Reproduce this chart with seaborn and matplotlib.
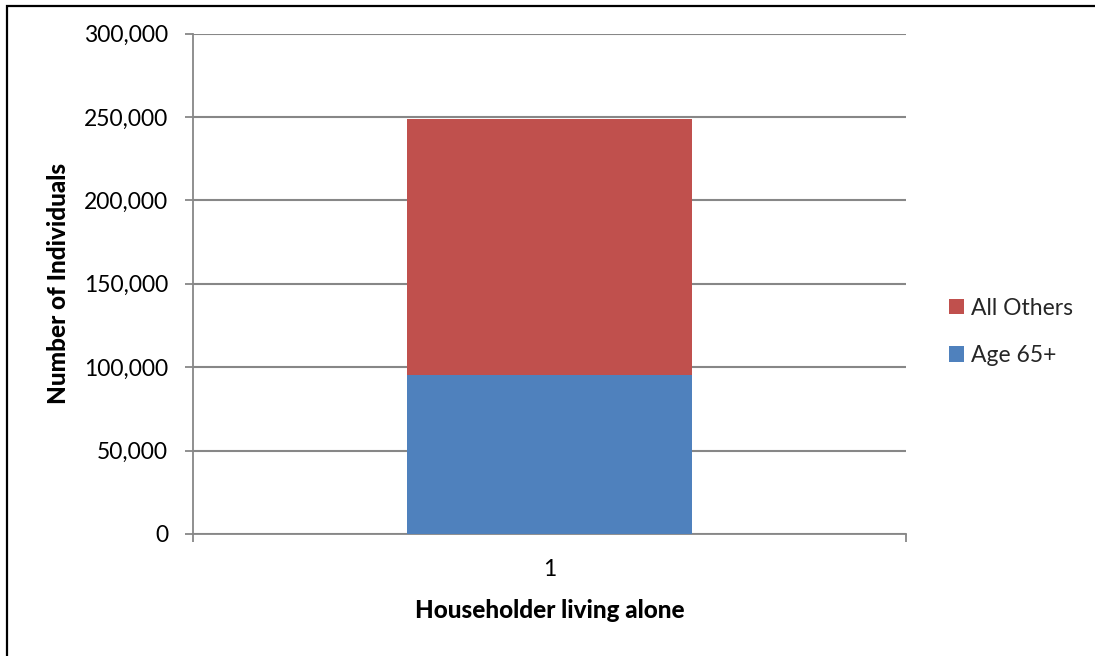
import matplotlib
matplotlib.use("Agg")
import matplotlib.pyplot as plt
from matplotlib.patches import Patch, Rectangle
import numpy as np
import pandas as pd
import seaborn as sns

# Householders living alone, split by age group
categories = ["1"]
age_65_plus = [95400]
all_others = [153100]
series_names = ["Age 65+", "All Others"]
series_colors = ["#4F81BD", "#C0504D"]
y_ticks = [0, 50000, 100000, 150000, 200000, 250000, 300000]

df = pd.DataFrame({
    "category": categories,
    "age_65_plus": age_65_plus,
    "all_others": all_others,
})
df["total"] = df["age_65_plus"] + df["all_others"]

sns.set_theme(style="white")
plt.rcParams["font.family"] = ["Lato", "DejaVu Sans"]

fig = plt.figure(figsize=(10.95, 6.56), dpi=100)
ax = fig.add_axes([193 / 1095, 1 - 534 / 656, (906 - 193) / 1095, (534 - 33.5) / 656])

# Stacked column: full height in red, lower segment in blue drawn over it
sns.barplot(data=df, x="category", y="total", color=series_colors[1],
            width=0.4, saturation=1, linewidth=0, ax=ax, zorder=3)
sns.barplot(data=df, x="category", y="age_65_plus", color=series_colors[0],
            width=0.4, saturation=1, linewidth=0, ax=ax, zorder=4)

ax.set_xlim(-0.5, 0.5)
ax.set_ylim(0, 300000)
ax.set_yticks(y_ticks)
ax.set_yticklabels([f"{v:,}" for v in y_ticks])
ax.yaxis.grid(True, color="#878787", linewidth=1.5, zorder=0)
ax.xaxis.grid(False)

for side in ["top", "right"]:
    ax.spines[side].set_visible(False)
for side in ["left", "bottom"]:
    ax.spines[side].set_color("#878787")
    ax.spines[side].set_linewidth(1.3)

ax.tick_params(axis="y", which="major", direction="out", length=6, width=1.3,
               color="#878787", pad=12, labelsize=16.5, labelcolor="black", left=True)
ax.set_xticks([0])
ax.set_xticklabels(categories)
ax.set_xticks([-0.5, 0.5], minor=True)
ax.tick_params(axis="x", which="major", length=0, pad=18, labelsize=16.5, labelcolor="black")
ax.tick_params(axis="x", which="minor", direction="out", length=6, width=1.3,
               color="#878787", bottom=True)

label_font = dict(fontsize=17.5, fontweight="black", color="black")
ax.set_xlabel("Householder living alone", labelpad=14, **label_font)
ax.set_ylabel("Number of Individuals", labelpad=10, **label_font)

handles = [Patch(facecolor=series_colors[1], edgecolor="none", label=series_names[1]),
           Patch(facecolor=series_colors[0], edgecolor="none", label=series_names[0])]
fig.legend(handles=handles, loc="center left", bbox_to_anchor=(940 / 1095, 1 - 332 / 656),
           frameon=False, fontsize=16.5, handlelength=0.65, handleheight=0.65,
           handletextpad=0.3, labelspacing=1.15, borderaxespad=0)

# Outer chart frame (left and top edges visible)
fig.add_artist(Rectangle((7 / 1095, -0.1), 1.2, 1 - 5.5 / 656 + 0.1,
                         transform=fig.transFigure, fill=False,
                         edgecolor="black", linewidth=1.6, clip_on=False))

fig.savefig("out.png", dpi=100)
